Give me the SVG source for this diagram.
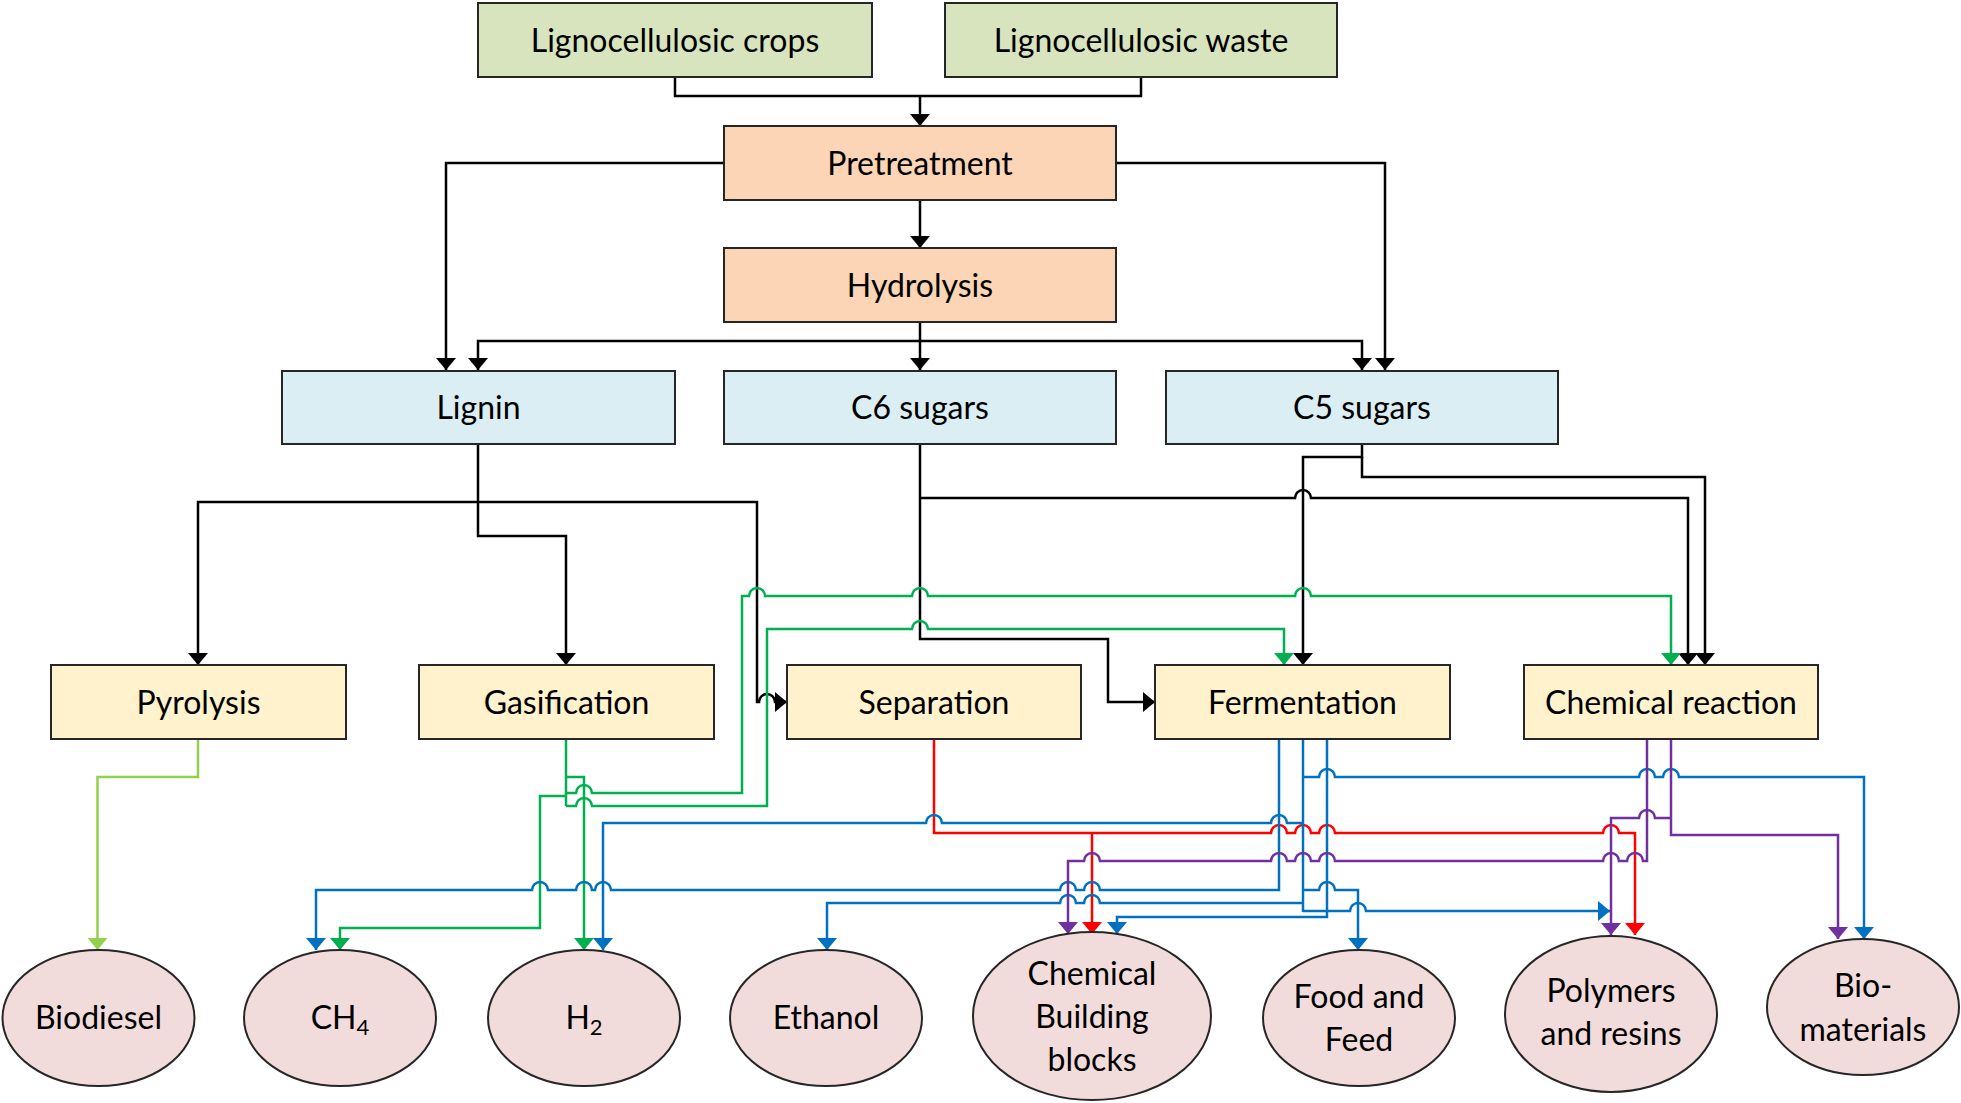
<svg xmlns="http://www.w3.org/2000/svg" width="1961" height="1103" viewBox="0 0 1961 1103">
<style>
.box{stroke:#262626;stroke-width:2}
.src{fill:#d7e4bd}.pre{fill:#fbd5b5}.frac{fill:#dbeef4}.proc{fill:#fff2cc}.prod{fill:#f2dcdb}
.t{font-family:Lato,"Liberation Sans",sans-serif;font-size:32px;text-anchor:middle;fill:#000}
.c{fill:none;stroke-width:2.5}
.k{stroke:#000}.g{stroke:#00b050}.lg{stroke:#92d050}.b{stroke:#0070c0}.r{stroke:#ff0000}.p{stroke:#7030a0}
</style>
<defs>
<marker id="ak" markerUnits="userSpaceOnUse" markerWidth="12" markerHeight="20" refX="12" refY="10" orient="auto" viewBox="0 0 12 20"><path d="M0,0 L12,10 L0,20 z" fill="#000"/></marker>
<marker id="ag" markerUnits="userSpaceOnUse" markerWidth="12" markerHeight="20" refX="12" refY="10" orient="auto" viewBox="0 0 12 20"><path d="M0,0 L12,10 L0,20 z" fill="#00b050"/></marker>
<marker id="alg" markerUnits="userSpaceOnUse" markerWidth="12" markerHeight="20" refX="12" refY="10" orient="auto" viewBox="0 0 12 20"><path d="M0,0 L12,10 L0,20 z" fill="#92d050"/></marker>
<marker id="ab" markerUnits="userSpaceOnUse" markerWidth="12" markerHeight="20" refX="12" refY="10" orient="auto" viewBox="0 0 12 20"><path d="M0,0 L12,10 L0,20 z" fill="#0070c0"/></marker>
<marker id="ar" markerUnits="userSpaceOnUse" markerWidth="12" markerHeight="20" refX="12" refY="10" orient="auto" viewBox="0 0 12 20"><path d="M0,0 L12,10 L0,20 z" fill="#ff0000"/></marker>
<marker id="ap" markerUnits="userSpaceOnUse" markerWidth="12" markerHeight="20" refX="12" refY="10" orient="auto" viewBox="0 0 12 20"><path d="M0,0 L12,10 L0,20 z" fill="#7030a0"/></marker>
</defs>
<rect width="1961" height="1103" fill="#fff"/>

<g id="connectors">
<!-- black -->
<path class="c k" d="M675,77 V96 H1141 V77"/>
<path class="c k" d="M920,96 V126" marker-end="url(#ak)"/>
<path class="c k" d="M724,163 H446 V370" marker-end="url(#ak)"/>
<path class="c k" d="M1116,163 H1385 V370" marker-end="url(#ak)"/>
<path class="c k" d="M920,200 V248" marker-end="url(#ak)"/>
<path class="c k" d="M920,322 V370" marker-end="url(#ak)"/>
<path class="c k" d="M920,341 H478 V370" marker-end="url(#ak)"/>
<path class="c k" d="M920,341 H1362 V370" marker-end="url(#ak)"/>
<path class="c k" d="M478,444 V536 H566 V665" marker-end="url(#ak)"/>
<path class="c k" d="M478,502 H198 V665" marker-end="url(#ak)"/>
<path class="c k" d="M478,502 H757 V702 H759 A8,8 0 0 1 775,702 H787" marker-end="url(#ak)"/>
<path class="c k" d="M920,444 V639 H1108 V702 H1155" marker-end="url(#ak)"/>
<path class="c k" d="M920,498 H1295 A8,8 0 0 1 1311,498 H1688 V665" marker-end="url(#ak)"/>
<path class="c k" d="M1362,444 V457 H1303 V665" marker-end="url(#ak)"/>
<path class="c k" d="M1362,457 V477 H1705 V665" marker-end="url(#ak)"/>
<!-- light green -->
<path class="c lg" d="M198,739 V777 H97.5 V950" marker-end="url(#alg)"/>
<!-- green -->
<path class="c g" d="M566,739 V806"/>
<path class="c g" d="M566,777 H584 V950" marker-end="url(#ag)"/>
<path class="c g" d="M566,793 H576 A8,8 0 0 1 592,793 H742 V596 H749 A8,8 0 0 1 765,596 H912 A8,8 0 0 1 928,596 H1295 A8,8 0 0 1 1311,596 H1671 V665" marker-end="url(#ag)"/>
<path class="c g" d="M566,806 H576 A8,8 0 0 1 592,806 H767 V629 H912 A8,8 0 0 1 928,629 H1284 V665" marker-end="url(#ag)"/>
<path class="c g" d="M566,796 H540 V928 H340 V950" marker-end="url(#ag)"/>
<!-- red -->
<path class="c r" d="M934,739 V833 H1271 A8,8 0 0 1 1287,833 H1295 A8,8 0 0 1 1311,833 H1319 A8,8 0 0 1 1335,833 H1603 A8,8 0 0 1 1619,833 H1635 V935" marker-end="url(#ar)"/>
<path class="c r" d="M1092,833 V934" marker-end="url(#ar)"/>
<!-- blue -->
<path class="c b" d="M1279,739 V890 H1100 A8,8 0 0 0 1084,890 H1076 A8,8 0 0 0 1060,890 H611 A8,8 0 0 0 595,890 H592 A8,8 0 0 0 576,890 H548 A8,8 0 0 0 532,890 H316 V950" marker-end="url(#ab)"/>
<path class="c b" d="M1303,739 V912"/>
<path class="c b" d="M1303,823 H1287 A8,8 0 0 0 1271,823 H942 A8,8 0 0 0 926,823 H603 V950" marker-end="url(#ab)"/>
<path class="c b" d="M1303,777 H1319 A8,8 0 0 1 1335,777 H1639 A8,8 0 0 1 1655,777 H1663 A8,8 0 0 1 1679,777 H1864 V939" marker-end="url(#ab)"/>
<path class="c b" d="M1303,890 H1319 A8,8 0 0 1 1335,890 H1358 V950" marker-end="url(#ab)"/>
<path class="c b" d="M1303,903 H1100 A8,8 0 0 0 1084,903 H1076 A8,8 0 0 0 1060,903 H827 V950" marker-end="url(#ab)"/>
<path class="c b" d="M1303,911 H1350 A8,8 0 0 1 1366,911 H1610" marker-end="url(#ab)"/>
<path class="c b" d="M1327,739 V917 H1117 V934" marker-end="url(#ab)"/>
<!-- purple -->
<path class="c p" d="M1647,739 V861 H1643 A8,8 0 0 0 1627,861 H1619 A8,8 0 0 0 1603,861 H1335 A8,8 0 0 0 1319,861 H1311 A8,8 0 0 0 1295,861 H1287 A8,8 0 0 0 1271,861 H1100 A8,8 0 0 0 1084,861 H1068 V934" marker-end="url(#ap)"/>
<path class="c p" d="M1671,739 V835 H1838 V939" marker-end="url(#ap)"/>
<path class="c p" d="M1671,818 H1655 A8,8 0 0 0 1639,818 H1611 V935" marker-end="url(#ap)"/>
</g>

<g id="crops"><rect class="box src" x="478" y="3" width="394" height="74"/><text class="t" x="675" y="51.5">Lignocellulosic crops</text></g>
<g id="waste"><rect class="box src" x="945" y="3" width="392" height="74"/><text class="t" x="1141" y="51.5">Lignocellulosic waste</text></g>
<g id="pretreatment"><rect class="box pre" x="724" y="126" width="392" height="74"/><text class="t" x="920" y="174.5">Pretreatment</text></g>
<g id="hydrolysis"><rect class="box pre" x="724" y="248" width="392" height="74"/><text class="t" x="920" y="296.5">Hydrolysis</text></g>
<g id="lignin"><rect class="box frac" x="282" y="371" width="393" height="73"/><text class="t" x="478.5" y="418.5">Lignin</text></g>
<g id="c6"><rect class="box frac" x="724" y="371" width="392" height="73"/><text class="t" x="920" y="418.5">C6 sugars</text></g>
<g id="c5"><rect class="box frac" x="1166" y="371" width="392" height="73"/><text class="t" x="1362" y="418.5">C5 sugars</text></g>
<g id="pyrolysis"><rect class="box proc" x="51" y="665" width="295" height="74"/><text class="t" x="198.5" y="713.5">Pyrolysis</text></g>
<g id="gasification"><rect class="box proc" x="419" y="665" width="295" height="74"/><text class="t" x="566.5" y="713.5">Gasification</text></g>
<g id="separation"><rect class="box proc" x="787" y="665" width="294" height="74"/><text class="t" x="934" y="713.5">Separation</text></g>
<g id="fermentation"><rect class="box proc" x="1155" y="665" width="295" height="74"/><text class="t" x="1302.5" y="713.5">Fermentation</text></g>
<g id="chemreaction"><rect class="box proc" x="1524" y="665" width="294" height="74"/><text class="t" x="1671" y="713.5">Chemical reaction</text></g>

<g id="biodiesel"><ellipse class="box prod" cx="98.5" cy="1018" rx="96" ry="68"/><text class="t" x="98.5" y="1029">Biodiesel</text></g>
<g id="ch4"><ellipse class="box prod" cx="340" cy="1018" rx="96" ry="68"/><text class="t" x="340" y="1029">CH<tspan font-size="22" dy="6">4</tspan></text></g>
<g id="h2"><ellipse class="box prod" cx="584" cy="1018" rx="96" ry="68"/><text class="t" x="584" y="1029">H<tspan font-size="22" dy="6">2</tspan></text></g>
<g id="ethanol"><ellipse class="box prod" cx="826" cy="1018" rx="96" ry="68"/><text class="t" x="826" y="1029">Ethanol</text></g>
<g id="chembb"><ellipse class="box prod" cx="1092" cy="1016" rx="119" ry="84"/><text class="t" x="1092" y="985">Chemical</text><text class="t" x="1092" y="1028">Building</text><text class="t" x="1092" y="1071">blocks</text></g>
<g id="foodfeed"><ellipse class="box prod" cx="1359" cy="1018" rx="96" ry="68"/><text class="t" x="1359" y="1008">Food and</text><text class="t" x="1359" y="1051">Feed</text></g>
<g id="polymers"><ellipse class="box prod" cx="1611" cy="1014" rx="106" ry="78"/><text class="t" x="1611" y="1002">Polymers</text><text class="t" x="1611" y="1045">and resins</text></g>
<g id="biomaterials"><ellipse class="box prod" cx="1863" cy="1007" rx="96" ry="68"/><text class="t" x="1863" y="997">Bio-</text><text class="t" x="1863" y="1041">materials</text></g>
</svg>
